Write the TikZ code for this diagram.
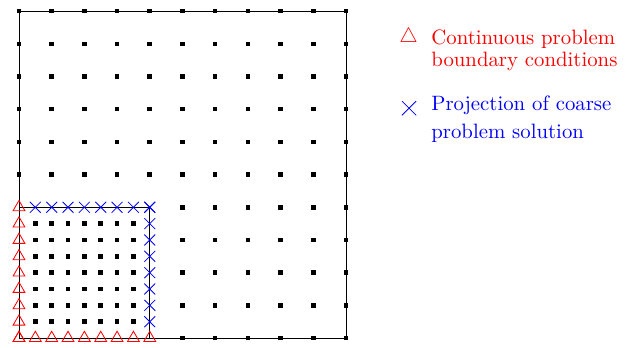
\documentclass[tikz,border=0pt]{standalone}
\usetikzlibrary{shapes.geometric,shapes.misc}

\begin{document}
\begin{tikzpicture}[
  x=0.553cm,y=0.553cm,
  coarsept/.style={fill=black,inner sep=0pt,minimum size=2.2pt},
  bcmark/.style={regular polygon,regular polygon sides=3,draw=red,inner sep=0pt,minimum size=0.23cm},
  projmark/.style={cross out,draw=blue,inner sep=0pt,minimum size=0.17cm},
  legendtext/.style={align=left,inner sep=0pt,anchor=base west,font=\fontsize{10}{10.7}\selectfont}
]
  \useasboundingbox (-0.581,-0.275) rectangle (18.78,10.34);

  % domain and fine patch
  \draw (0,0) rectangle (10,10);
  \draw (0,4) -- (4,4) -- (4,0);

  % coarse nodes outside the patch
  \foreach \i in {0,...,10}
    \foreach \j in {0,...,10}{
      \ifnum\i>4
        \node[coarsept] (c-\i-\j) at (\i,\j) {};
      \else\ifnum\j>4
        \node[coarsept] (c-\i-\j) at (\i,\j) {};
      \fi\fi
    }

  % fine interior nodes
  \foreach \i in {1,...,7}
    \foreach \j in {1,...,7}
      \node[coarsept] (f-\i-\j) at (\i/2,\j/2) {};

  % boundary conditions
  \foreach \k in {0,...,8}{
    \node[bcmark] (bcb-\k) at (\k/2,0) {};
    \node[bcmark] (bcl-\k) at (0,\k/2) {};
  }

  % projected values
  \foreach \k in {1,...,8}{
    \node[projmark] (prt-\k) at (\k/2,4) {};
    \node[projmark] (prr-\k) at (4,\k/2) {};
  }

  % legend
  \node[text=red,inner sep=0pt] (bcsym) at (11.92,9.2) {$\triangle$};
  \node[legendtext,text=red] (bctext) at (12.6,8.30) {Continuous problem\\boundary conditions};
  \node[projmark,minimum size=0.227cm] (prsym) at (11.93,7.03) {};
  \node[legendtext,text=blue] (prtext) at (12.6,6.11) {Projection of coarse\\[2.6pt]problem solution};
\end{tikzpicture}
\end{document}
